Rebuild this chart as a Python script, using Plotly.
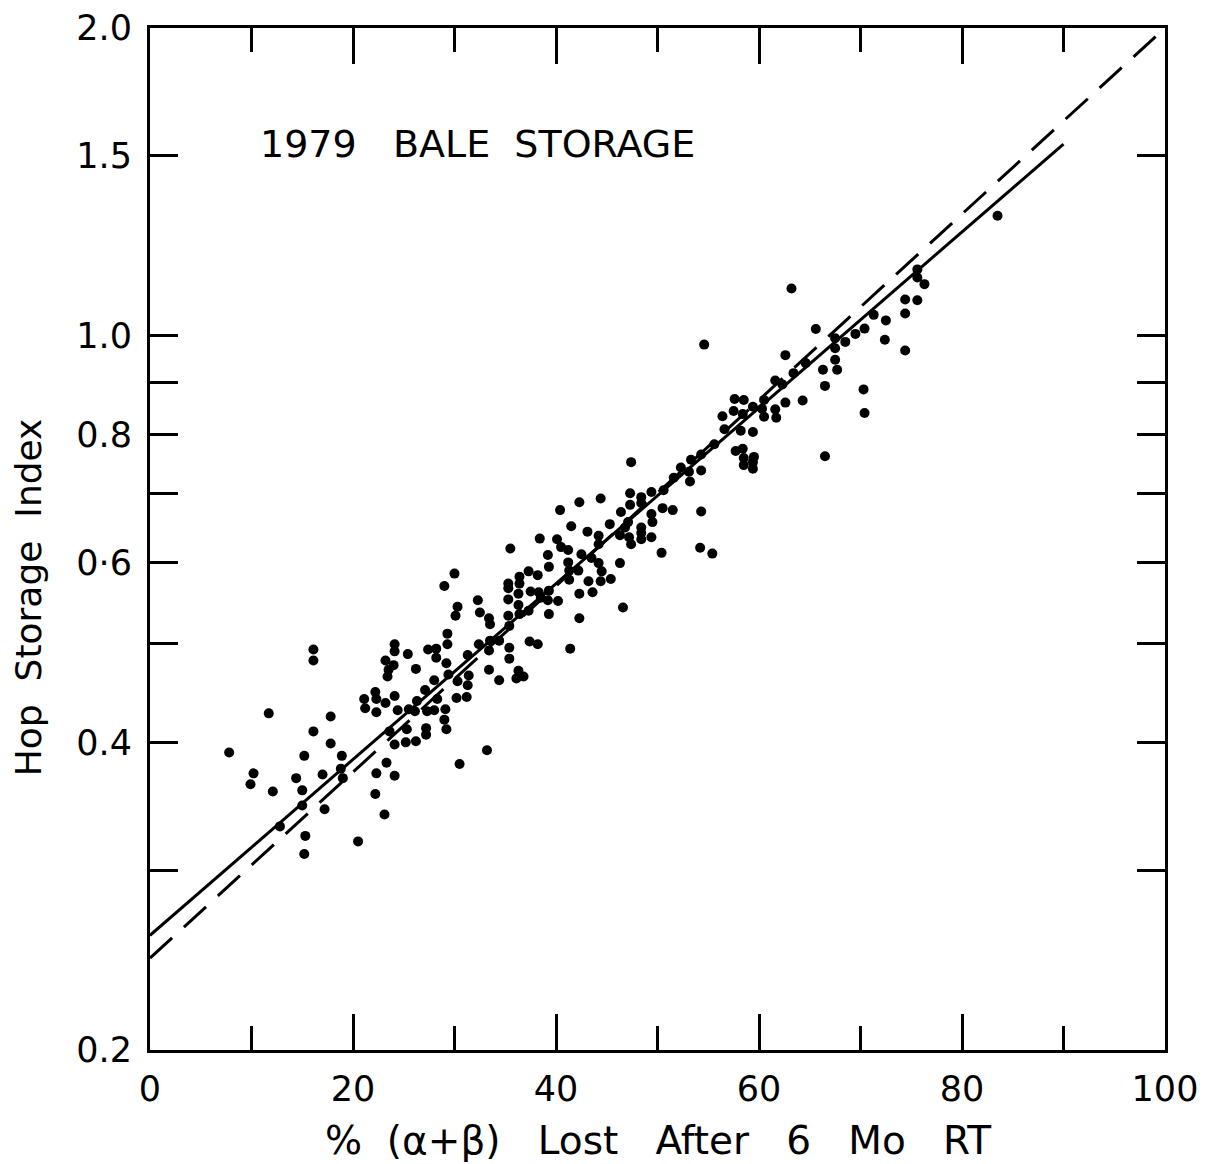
import math
import plotly.graph_objects as go

# % (alpha+beta) lost after 6 months at room temperature
loss_pct = [
    16.1, 16.1, 11.7, 17.8, 16.1, 7.8, 17.8, 15.2, 18.9, 10.2, 9.9, 12.1, 14.4, 17.0, 18.8,
    19.0, 15.0, 15.0, 17.2, 12.8, 15.3, 15.2, 20.5, 22.2, 23.1, 22.3, 23.3, 24.1, 24.1, 23.6,
    21.1, 21.2, 22.2, 22.3, 23.2, 22.3, 24.1, 24.1, 24.1, 23.2, 24.0, 23.5, 23.4,
    30.0, 29.0, 32.3, 32.5, 30.3, 30.1, 33.4, 33.5, 35.3, 35.3, 36.4, 36.4, 35.3, 36.3, 36.3,
    35.3, 36.4, 35.4, 29.3, 29.3, 32.4, 33.5, 34.4, 33.4, 35.4, 35.4, 33.4, 34.4, 36.3, 36.1,
    36.8, 31.3, 31.4, 31.3, 31.2, 30.2, 30.3, 29.4, 29.2, 27.4, 28.2, 28.2, 25.4, 26.2, 28.0,
    27.1, 28.3, 26.3, 29.1, 28.0, 27.3, 25.5, 26.1, 24.4, 29.0, 29.2, 27.2, 27.2, 25.3, 25.2,
    26.2, 33.2, 30.5,
    47.4, 47.3, 47.3, 46.4, 44.4, 42.3, 40.4, 45.3, 47.1, 46.8, 43.1, 41.5, 44.2, 47.2, 47.4,
    38.4, 40.1, 40.5, 41.2, 44.2, 42.5, 43.5, 39.2, 35.5, 44.2, 46.3, 41.2, 39.3, 44.5, 41.3,
    42.2, 37.3, 38.2, 41.3, 43.2, 44.4, 45.4, 37.5, 38.3, 39.3, 38.5, 39.2, 40.2, 42.3, 43.6,
    46.6, 37.3, 39.3, 42.3, 37.4, 38.2, 41.4,
    48.4, 49.4, 50.6, 48.4, 49.4, 50.5, 51.5, 48.4, 49.5, 48.4, 48.4, 49.4, 46.3, 50.4,
    54.6, 65.6, 67.5, 68.5, 67.5, 62.6, 67.5, 64.6, 66.3, 67.7, 63.4, 61.6, 62.3, 66.5, 64.3,
    62.6, 57.6, 58.5, 57.5, 58.4, 59.4, 60.5, 60.3, 60.5, 61.6, 61.7, 56.4, 56.6, 58.2, 59.4,
    55.6, 54.3, 53.3, 52.3, 53.1, 54.3, 53.2, 51.6, 57.7, 58.4, 58.5, 58.5, 59.5, 59.4, 59.4,
    66.5, 54.3, 54.2, 55.4,
    83.5, 75.6, 75.6, 76.3, 74.4, 75.6, 74.4, 71.3, 72.5, 70.4, 69.5, 72.4, 74.4, 70.3, 70.4,
    63.2,
]

# Hop storage index
storage_index = [
    0.493, 0.481, 0.427, 0.424, 0.410, 0.391, 0.399, 0.388, 0.388, 0.373, 0.364, 0.358, 0.369, 0.372, 0.377,
    0.369, 0.359, 0.347, 0.344, 0.331, 0.324, 0.311, 0.320, 0.356, 0.340, 0.373, 0.382, 0.371, 0.398, 0.410,
    0.441, 0.432, 0.448, 0.441, 0.437, 0.428, 0.444, 0.499, 0.491, 0.481, 0.476, 0.471, 0.464,
    0.585, 0.569, 0.551, 0.536, 0.543, 0.532, 0.529, 0.522, 0.572, 0.566, 0.581, 0.572, 0.552, 0.559, 0.545,
    0.532, 0.534, 0.520, 0.511, 0.499, 0.499, 0.503, 0.503, 0.492, 0.495, 0.483, 0.471, 0.460, 0.470, 0.462,
    0.464, 0.487, 0.465, 0.455, 0.443, 0.442, 0.459, 0.466, 0.478, 0.493, 0.494, 0.484, 0.488, 0.472, 0.460,
    0.450, 0.441, 0.439, 0.431, 0.430, 0.429, 0.431, 0.429, 0.430, 0.421, 0.412, 0.413, 0.407, 0.412, 0.400,
    0.401, 0.393, 0.381,
    0.752, 0.701, 0.683, 0.672, 0.693, 0.687, 0.675, 0.654, 0.657, 0.649, 0.643, 0.651, 0.637, 0.635, 0.625,
    0.633, 0.632, 0.621, 0.617, 0.625, 0.611, 0.606, 0.610, 0.619, 0.599, 0.599, 0.600, 0.594, 0.588, 0.589,
    0.589, 0.588, 0.583, 0.577, 0.575, 0.575, 0.578, 0.562, 0.561, 0.563, 0.554, 0.551, 0.550, 0.559, 0.561,
    0.542, 0.538, 0.534, 0.529, 0.502, 0.499, 0.494,
    0.695, 0.703, 0.706, 0.686, 0.669, 0.678, 0.675, 0.649, 0.657, 0.641, 0.632, 0.635, 0.638, 0.613,
    0.980, 1.015, 0.994, 0.986, 0.972, 0.957, 0.947, 0.940, 0.926, 0.926, 0.919, 0.904, 0.896, 0.893, 0.864,
    0.860, 0.867, 0.865, 0.844, 0.838, 0.852, 0.865, 0.848, 0.833, 0.847, 0.831, 0.834, 0.810, 0.807, 0.805,
    0.783, 0.765, 0.756, 0.743, 0.736, 0.738, 0.720, 0.726, 0.771, 0.775, 0.759, 0.747, 0.761, 0.752, 0.741,
    0.762, 0.673, 0.620, 0.612,
    1.310, 1.161, 1.140, 1.123, 1.085, 1.083, 1.051, 1.048, 1.035, 1.016, 1.004, 0.991, 0.967, 0.886, 0.840,
    1.112,
]

# fitted regression line (solid) and reference line (dashed)
fit_x = [0, 90]
fit_y = [0.259, 1.54]
ref_x = [0, 100]
ref_y = [0.246, 2.0]

x_tick_vals = [0, 20, 40, 60, 80, 100]
x_tick_text = ["0", "20", "40", "60", "80", "100"]
x_minor_vals = [10, 30, 50, 70, 90]
y_tick_vals = [0.2, 0.3, 0.4, 0.5, 0.6, 0.7, 0.8, 0.9, 1.0, 1.5, 2.0]
y_tick_text = ["0.2", "", "0.4", "", "0·6", "", "0.8", "", "1.0", "1.5", "2.0"]

FONT = "DejaVu Sans"

fig = go.Figure()
fig.add_trace(go.Scatter(x=ref_x, y=ref_y, mode="lines",
                         line=dict(color="black", width=3, dash="30px,16px"),
                         showlegend=False, hoverinfo="skip"))
fig.add_trace(go.Scatter(x=fit_x, y=fit_y, mode="lines",
                         line=dict(color="black", width=3),
                         showlegend=False, hoverinfo="skip"))
fig.add_trace(go.Scatter(x=loss_pct, y=storage_index, mode="markers",
                         marker=dict(color="black", size=10),
                         showlegend=False))

fig.update_layout(
    width=1206, height=1164,
    margin=dict(l=150, r=41, t=28, b=114),
    paper_bgcolor="white", plot_bgcolor="white",
    font=dict(family=FONT, color="black"),
    xaxis=dict(
        range=[0, 100], tickvals=x_tick_vals, ticktext=x_tick_text, automargin=False,
        ticks="inside", ticklen=36, tickwidth=3, tickcolor="black",
        minor=dict(tickvals=x_minor_vals, ticks="inside", ticklen=24, tickwidth=3, tickcolor="black"),
        showline=True, linewidth=3, linecolor="black", mirror="ticks",
        showgrid=False, zeroline=False,
        tickfont=dict(size=35, family=FONT), ticklabelstandoff=6,
    ),
    yaxis=dict(
        type="log", range=[math.log10(0.2), math.log10(2.0)], automargin=False,
        tickvals=y_tick_vals, ticktext=y_tick_text,
        ticks="inside", ticklen=28, tickwidth=3, tickcolor="black",
        showline=True, linewidth=3, linecolor="black", mirror="ticks",
        showgrid=False, zeroline=False,
        tickfont=dict(size=35, family=FONT), ticklabelstandoff=8,
    ),
    annotations=[
        dict(text="1979   BALE  STORAGE", x=10.6, y=math.log10(1.54), xref="x", yref="y",
             xanchor="left", yanchor="middle", showarrow=False,
             font=dict(size=38, family=FONT, color="black")),
        dict(text="%  (α+β)   Lost   After   6   Mo   RT", x=0.5, y=0, xref="paper", yref="paper",
             xanchor="center", yanchor="middle", yshift=-90, showarrow=False,
             font=dict(size=39, family=FONT, color="black")),
        dict(text="Hop  Storage  Index", x=0, y=0.443, xref="paper", yref="paper",
             xanchor="center", yanchor="middle", xshift=-122, textangle=-90, showarrow=False,
             font=dict(size=36, family=FONT, color="black")),
    ],
)

fig.write_html("out.html", config={"displayModeBar": False},
               post_script="document.body.style.margin='0px';")
